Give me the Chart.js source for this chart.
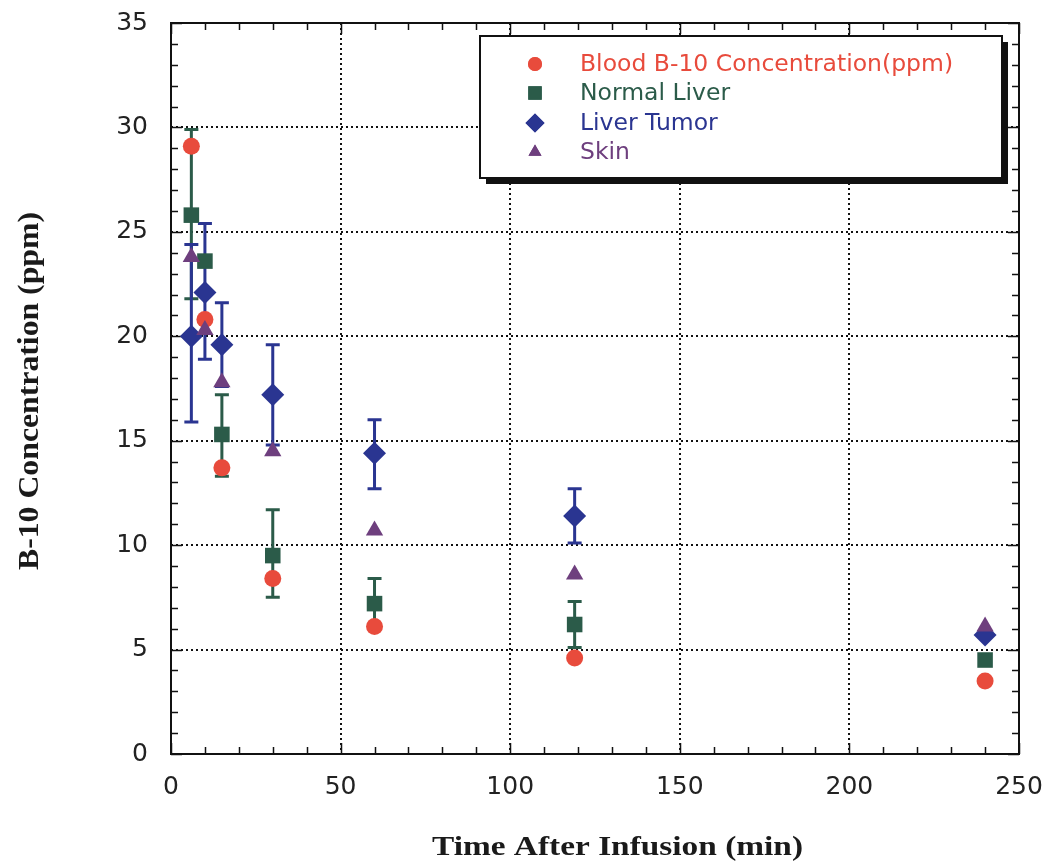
<!DOCTYPE html>
<html lang="en">
<head>
  <meta charset="UTF-8" />
  <title>B-10 Concentration After Infusion</title>
  <script src="https://cdn.jsdelivr.net/npm/chart.js"></script>
  <style>
    body{margin:0;background:#fff;}
    #wrap{position:relative;width:1049px;height:863px;}
  </style>
</head>
<body>
  <div id="wrap"><canvas id="b10Chart"></canvas></div>

<script>
  // Values (time in min, concentration in ppm)
  const seriesNames=['Blood B-10 Concentration(ppm)','Normal Liver','Liver Tumor','Skin'];
  const times=[6,10,15,30,60,119,240];
  const blood=[29.1,20.8,13.7,8.4,6.1,4.6,3.5];
  const normalLiver=[25.8,23.6,15.3,9.5,7.2,6.2,4.5];
  const liverTumor=[20.0,22.1,19.6,17.2,14.4,11.4,5.7];
  const skin=[23.8,20.3,17.8,14.5,10.7,8.6,6.1];
  // error bar ends, null where no bar is drawn
  const normalLiverLow=[21.8,null,13.3,7.5,6.0,5.1,null];
  const normalLiverHigh=[29.9,null,17.2,11.7,8.4,7.3,null];
  const liverTumorLow=[15.9,18.9,17.6,14.8,12.7,10.1,null];
  const liverTumorHigh=[24.4,25.4,21.6,19.6,16.0,12.7,null];
  const xTicks=[0,50,100,150,200,250];
  const yTicks=[0,5,10,15,20,25,30,35];

  const colors=['#e84b3c','#2b5b49','#2a3591','#6e3f7e'];
  const styles=['circle','rect','rectRot','triangle'];
  const radii=[8.5,11,11.5,10];
  const legendRadii=[7,9.5,9.5,7.5];

  const pts=vals=>times.map((t,i)=>({x:t,y:vals[i]}));

  // draw text squeezed/stretched to a given width
  function fitText(ctx,text,x,y,width){
    const w=ctx.measureText(text).width;
    ctx.save();ctx.translate(x,y);ctx.scale(width/w,1);
    ctx.fillText(text,0,0);ctx.restore();
  }

  // keep the plot box where the figure has it: no extra room for label overflow
  const noOverflow=s=>{s.paddingTop=0;s.paddingBottom=0;s.paddingLeft=0;s.paddingRight=0;};

  // dotted grid, frame and inward ticks on all four sides
  const frame={
    id:'frame',
    beforeDatasetsDraw(chart){
      const {ctx,chartArea:a,scales:{x,y}}=chart;
      ctx.save();
      ctx.strokeStyle='#111';ctx.lineWidth=2;ctx.setLineDash([2,3]);
      xTicks.slice(1,-1).forEach(v=>{const p=Math.round(x.getPixelForValue(v));ctx.beginPath();ctx.moveTo(p,a.top);ctx.lineTo(p,a.bottom);ctx.stroke();});
      yTicks.slice(1,-1).forEach(v=>{const p=Math.round(y.getPixelForValue(v));ctx.beginPath();ctx.moveTo(a.left,p);ctx.lineTo(a.right,p);ctx.stroke();});
      ctx.setLineDash([]);
      ctx.strokeRect(a.left,a.top,a.right-a.left,a.bottom-a.top);
      ctx.lineWidth=1.5;ctx.beginPath();
      for(let v=0;v<=250;v+=10){
        const p=Math.round(x.getPixelForValue(v))+.5,len=v%50===0?11:7;
        ctx.moveTo(p,a.bottom);ctx.lineTo(p,a.bottom-len);
        ctx.moveTo(p,a.top);ctx.lineTo(p,a.top+len);
      }
      for(let v=0;v<=35;v+=1){
        const p=Math.round(y.getPixelForValue(v))+.5,len=v%5===0?11:7;
        ctx.moveTo(a.left,p);ctx.lineTo(a.left+len,p);
        ctx.moveTo(a.right,p);ctx.lineTo(a.right-len,p);
      }
      ctx.stroke();
      ctx.restore();
    }
  };

  // vertical error bars with caps, under the markers
  const errorBars={
    id:'errorBars',
    beforeDatasetsDraw(chart){
      const {ctx,scales:{x,y}}=chart;
      const sets=[[normalLiverLow,normalLiverHigh,colors[1]],[liverTumorLow,liverTumorHigh,colors[2]]];
      ctx.save();ctx.lineWidth=3;
      sets.forEach(([lo,hi,c])=>{
        ctx.strokeStyle=c;
        times.forEach((t,i)=>{
          if(lo[i]==null)return;
          const px=x.getPixelForValue(t),p1=y.getPixelForValue(lo[i]),p2=y.getPixelForValue(hi[i]);
          ctx.beginPath();
          ctx.moveTo(px,p1);ctx.lineTo(px,p2);
          ctx.moveTo(px-7,p1);ctx.lineTo(px+7,p1);
          ctx.moveTo(px-7,p2);ctx.lineTo(px+7,p2);
          ctx.stroke();
        });
      });
      ctx.restore();
    }
  };

  // boxed legend with drop shadow, plus axis titles
  const extras={
    id:'extras',
    afterDraw(chart){
      const {ctx}=chart;
      const L=480,T=36,W=522,H=142;
      ctx.save();
      ctx.fillStyle='#111';ctx.fillRect(L+6,T+6,W,H);
      ctx.fillStyle='#fff';ctx.fillRect(L,T,W,H);
      ctx.strokeStyle='#111';ctx.lineWidth=2;ctx.strokeRect(L,T,W,H);
      const rows=[64,93,123,152];
      ctx.font='23.5px "DejaVu Sans"';ctx.textBaseline='middle';
      seriesNames.forEach((n,i)=>{
        ctx.fillStyle=colors[i];
        Chart.helpers.drawPoint(ctx,{pointStyle:styles[i],radius:legendRadii[i],rotation:0,borderWidth:0},535,rows[i]);
        ctx.fill();
        ctx.fillText(n,580,rows[i]+1);
      });
      ctx.fillStyle='#1a1a1a';
      ctx.font='bold 28px "Liberation Serif"';ctx.textAlign='left';ctx.textBaseline='alphabetic';
      fitText(ctx,'Time After Infusion (min)',432,855,371);
      ctx.save();ctx.translate(38,570);ctx.rotate(-Math.PI/2);
      ctx.font='bold 30px "Liberation Serif"';
      fitText(ctx,'B-10 Concentration (ppm)',0,0,358);
      ctx.restore();
      ctx.restore();
    }
  };

  new Chart(document.getElementById('b10Chart').getContext('2d'),{
    type:'scatter',
    data:{datasets:[blood,normalLiver,liverTumor,skin].map((v,i)=>({
      label:seriesNames[i],data:pts(v),order:4-i,
      pointStyle:styles[i],pointRadius:radii[i],pointHoverRadius:radii[i],
      backgroundColor:colors[i],borderColor:colors[i],borderWidth:0
    }))},
    options:{
      responsive:true,maintainAspectRatio:false,animation:false,
      layout:{padding:{top:23,right:30,left:0,bottom:0}},
      plugins:{legend:{display:false},tooltip:{enabled:false}},
      scales:{
        x:{type:'linear',min:0,max:250,
          afterBuildTicks:s=>{s.ticks=xTicks.map(v=>({value:v}));},
          afterFit:s=>{s.height=109;noOverflow(s);},
          grid:{display:false,drawTicks:false},border:{display:false},
          ticks:{padding:18,color:'#222',font:{family:'DejaVu Sans',size:25},maxRotation:0}},
        y:{type:'linear',min:0,max:35,
          afterBuildTicks:s=>{s.ticks=yTicks.map(v=>({value:v}));},
          afterFit:s=>{s.width=171;noOverflow(s);},
          grid:{display:false,drawTicks:false},border:{display:false},
          ticks:{padding:23,color:'#222',font:{family:'DejaVu Sans',size:25}}}
      }
    },
    plugins:[frame,errorBars,extras]
  });
</script>
</body>
</html>
